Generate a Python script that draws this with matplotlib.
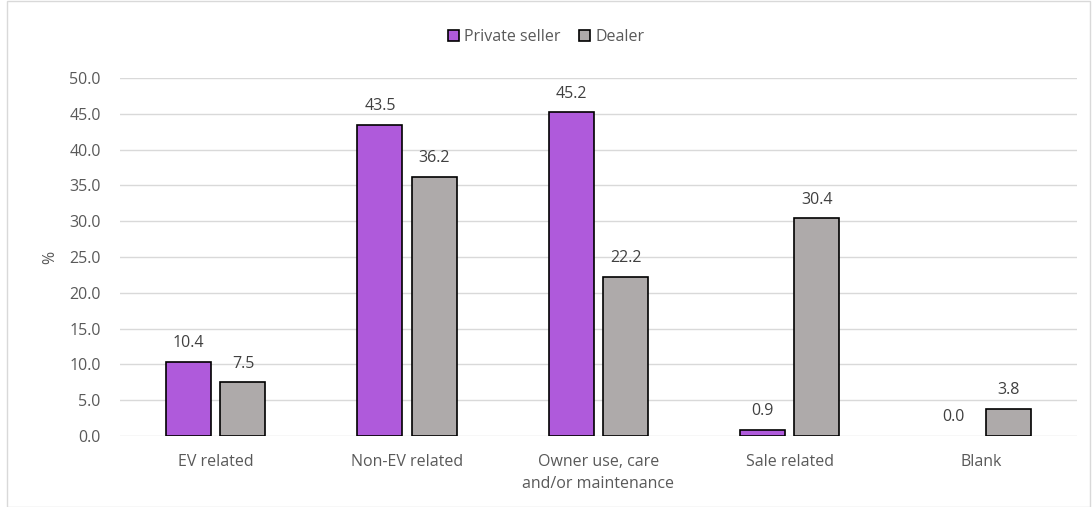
import matplotlib.pyplot as plt
import matplotlib.patches as mpatches
import numpy as np

categories = ['EV related', 'Non-EV related', 'Owner use, care\nand/or maintenance', 'Sale related', 'Blank']
private = [10.4, 43.5, 45.2, 0.9, 0.0]
dealer = [7.5, 36.2, 22.2, 30.4, 3.8]

purple = '#AF5ADB'
grey = '#AEAAAA'
txt = '#595959'
fs = 11.5

plt.rcParams['font.family'] = ['Open Sans', 'DejaVu Sans']

fig = plt.figure(figsize=(10.92, 5.07), dpi=100)
ax = fig.add_axes([0.110, 0.140, 0.876, 0.706])

x = np.arange(len(categories))
w = 0.235
off = 0.142
b1 = ax.bar(x - off, private, w, color=purple, edgecolor='black', linewidth=1.2, zorder=3, label='Private seller')
b2 = ax.bar(x + off, dealer, w, color=grey, edgecolor='black', linewidth=1.2, zorder=3, label='Dealer')
# no outline for the zero bar
for rect, v in zip(b1, private):
    if v == 0:
        rect.set_linewidth(0)

for bars, vals in ((b1, private), (b2, dealer)):
    for rect, v in zip(bars, vals):
        ax.text(rect.get_x() + rect.get_width() / 2, v + 1.5, f'{v:.1f}',
                ha='center', va='bottom', fontsize=fs, color='#404040')

ax.set_xlim(-0.5, 4.5)
ax.set_ylim(0, 50)
ax.set_yticks(np.arange(0, 50.1, 5))
ax.set_yticklabels([f'{t:.1f}' for t in np.arange(0, 50.1, 5)])
ax.set_xticks(x)
ax.set_xticklabels(categories, linespacing=1.5)
ax.tick_params(axis='both', length=0, labelsize=fs, labelcolor=txt)
ax.tick_params(axis='x', pad=13)
ax.tick_params(axis='y', pad=14)
ax.grid(axis='y', color='#D9D9D9', linewidth=1, zorder=0)
for s in ax.spines.values():
    s.set_visible(False)
ax.set_ylabel('%', color=txt, fontsize=fs, labelpad=8)

ax.legend(loc='center', bbox_to_anchor=(0.5, 0.927), bbox_transform=fig.transFigure,
          ncol=2, frameon=False, fontsize=fs, handlelength=0.7, handleheight=0.7,
          handletextpad=0.3, columnspacing=1.2, labelcolor=txt)

fig.patches.append(mpatches.Rectangle((0.006, 0.0), 0.992, 0.998, transform=fig.transFigure,
                                      fill=False, edgecolor='#D9D9D9', linewidth=1))

fig.savefig('out.png', dpi=100)
